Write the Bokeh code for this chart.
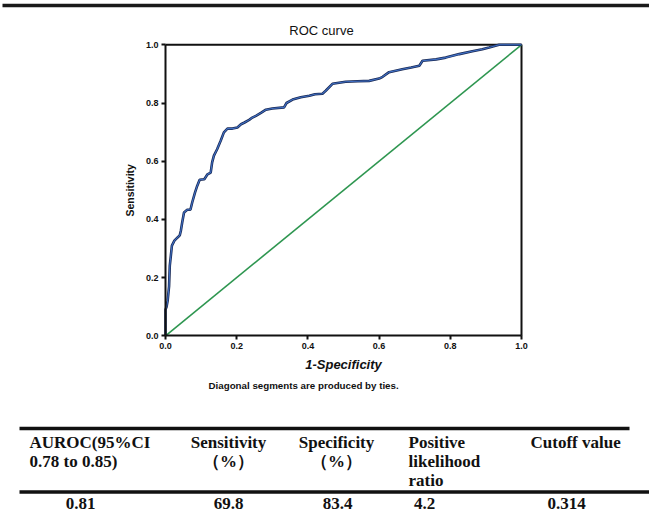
import math
from bokeh.plotting import figure
from bokeh.models import Range1d, FixedTicker, ColumnDataSource, CustomJSTickFormatter
from bokeh.core.properties import value
from bokeh.embed import file_html
from bokeh.resources import INLINE

# ---------------- data ----------------
fpr = [0.000, 0.000, 0.003, 0.006, 0.010, 0.012, 0.015, 0.018, 0.025, 0.034,
       0.040, 0.043, 0.047, 0.052, 0.061, 0.070, 0.075, 0.083, 0.089, 0.096,
       0.109, 0.118, 0.127, 0.131, 0.136, 0.145, 0.155, 0.164, 0.174, 0.188,
       0.202, 0.212, 0.222, 0.235, 0.244, 0.254, 0.268, 0.282, 0.300, 0.333,
       0.340, 0.357, 0.380, 0.404, 0.420, 0.441, 0.450, 0.469, 0.506, 0.540,
       0.572, 0.600, 0.610, 0.628, 0.665, 0.690, 0.713, 0.722, 0.760, 0.787,
       0.825, 0.862, 0.890, 0.909, 0.937, 1.000]
tpr = [0.000, 0.090, 0.100, 0.120, 0.170, 0.240, 0.275, 0.310, 0.327, 0.338,
       0.345, 0.360, 0.390, 0.424, 0.433, 0.433, 0.458, 0.493, 0.515, 0.536,
       0.538, 0.555, 0.561, 0.596, 0.619, 0.641, 0.670, 0.699, 0.712, 0.712,
       0.716, 0.727, 0.733, 0.742, 0.750, 0.756, 0.766, 0.777, 0.781, 0.785,
       0.800, 0.812, 0.820, 0.825, 0.830, 0.832, 0.842, 0.866, 0.873, 0.875,
       0.876, 0.884, 0.890, 0.906, 0.916, 0.922, 0.928, 0.945, 0.950, 0.956,
       0.968, 0.978, 0.985, 0.991, 1.000, 1.000]
ref_x = [0.0, 1.0]
ref_y = [0.0, 1.0]
ticks = [0.0, 0.2, 0.4, 0.6, 0.8, 1.0]

chart_title = "ROC curve"
x_label = "1-Specificity"
y_label = "Sensitivity"
note = "Diagonal segments are produced by ties."

table_headers = ["AUROC(95%CI\n0.78 to 0.85)", "Sensitivity\n（%）", "Specificity\n（%）",
                 "Positive\nlikelihood\nratio", "Cutoff value"]
table_values = ["0.81", "69.8", "83.4", "4.2", "0.314"]

# ---------------- layout (canvas pixels) ----------------
W, H = 649, 512
FRAME_L, FRAME_R = 165.0, 521.0
FRAME_T, FRAME_B = 44.3, 335.3
sx = (FRAME_R - FRAME_L) / (ticks[-1] - ticks[0])
sy = (FRAME_B - FRAME_T) / (ticks[-1] - ticks[0])
x_rng = Range1d(ticks[0] - FRAME_L / sx, ticks[-1] + (W - FRAME_R) / sx)
y_rng = Range1d(ticks[0] - (H - FRAME_B) / sy, ticks[-1] + FRAME_T / sy)

SANS = value("Liberation Sans")
SERIF = value("Liberation Serif")
INK = "#111111"

p = figure(width=W, height=H, output_backend="svg", toolbar_location=None, title=None,
           x_range=x_rng, y_range=y_rng, min_border=0)
p.extra_x_ranges = {"px": Range1d(0, W)}
p.extra_y_ranges = {"px": Range1d(H, 0)}
p.outline_line_color = None
p.grid.visible = False

for ax in (p.xaxis[0], p.yaxis[0]):
    ax.fixed_location = ticks[0]
    ax.bounds = (ticks[0], ticks[-1])
    ax.ticker = FixedTicker(ticks=ticks)
    ax.formatter = CustomJSTickFormatter(code="return tick.toFixed(1);")
    ax.axis_line_color = INK
    ax.axis_line_width = 2
    ax.major_tick_line_color = INK
    ax.major_tick_line_width = 2
    ax.major_tick_out = 4
    ax.major_tick_in = 0
    ax.minor_tick_line_color = None
    ax.major_label_text_font = "Liberation Sans"
    ax.major_label_text_font_style = "bold"
    ax.major_label_text_font_size = "9px"
    ax.major_label_text_color = INK
    ax.major_label_standoff = 3

# frame top and right edges
p.line([ticks[0], ticks[-1], ticks[-1]], [ticks[-1], ticks[-1], ticks[0]],
       line_color=INK, line_width=2)

# curves
src = ColumnDataSource(dict(x=fpr, y=tpr))
p.line(ref_x, ref_y, line_color="#2e9650", line_width=1.6)
p.line("x", "y", source=src, line_color="#1a2a55", line_width=2.6)
p.line("x", "y", source=src, line_color="#3f6fc4", line_width=1.1)

PX = dict(x_range_name="px", y_range_name="px")

# top rule
p.segment(x0=[2], y0=[5], x1=[W], y1=[5], line_color="#1a1a1a", line_width=3.5, **PX)

# chart texts
p.text(x=[321], y=[30], text=[chart_title], text_font=SANS, text_font_size="13px",
       text_align="center", text_baseline="middle", text_color=INK, **PX)
p.text(x=[(FRAME_L + FRAME_R) / 2], y=[364], text=[x_label], text_font=SANS,
       text_font_style="bold italic", text_font_size="13px", text_align="center",
       text_baseline="middle", text_color=INK, **PX)
p.text(x=[129], y=[(FRAME_T + FRAME_B) / 2], text=[y_label], text_font=SANS,
       text_font_style="bold", text_font_size="10.5px", angle=math.pi / 2,
       text_align="center", text_baseline="middle", text_color=INK, **PX)
p.text(x=[208], y=[385], text=[note], text_font=SANS, text_font_style="bold",
       text_font_size="9.75px", text_align="left", text_baseline="middle",
       text_color=INK, **PX)

# table rules
p.segment(x0=[19, 19], y0=[428, 491.5], x1=[629, W], y1=[428, 491.5],
          line_color=INK, line_width=3.5, **PX)

col_x = [29, 228, 336, 408, 530]
col_align = ["left", "center", "center", "left", "left"]
val_x = [80, 228, 337, 424, 566]
row_mid0, row_gap, val_mid = 442, 19, 502.5

hx, hy, ht, ha = [], [], [], []
for i, h in enumerate(table_headers):
    for j, line in enumerate(h.split("\n")):
        hx.append(col_x[i]); hy.append(row_mid0 + j * row_gap); ht.append(line); ha.append(col_align[i])
hsrc = ColumnDataSource(dict(x=hx, y=hy, text=ht, align=ha))
p.text("x", "y", text="text", text_align="align", source=hsrc, text_font=SERIF,
       text_font_style="bold", text_font_size="17px", text_baseline="middle",
       text_color=INK, **PX)
vsrc = ColumnDataSource(dict(x=val_x, y=[val_mid] * len(table_values), text=table_values))
p.text("x", "y", text="text", source=vsrc, text_font=SERIF, text_font_style="bold",
       text_font_size="17px", text_baseline="middle", text_align="center",
       text_color=INK, **PX)

open("out.html", "w").write(file_html(p, INLINE))
